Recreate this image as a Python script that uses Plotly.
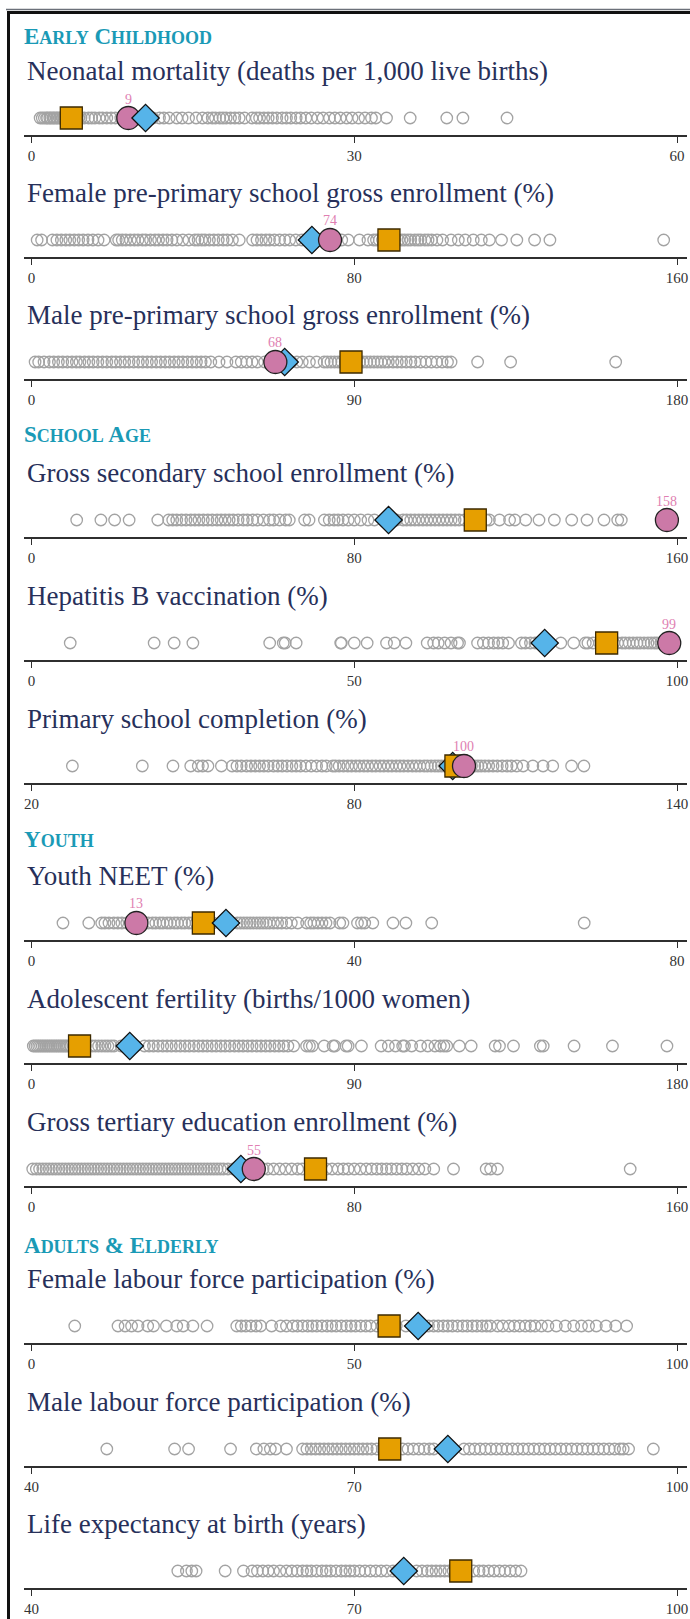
import plotly.graph_objects as go

# ---------------- DATA ----------------
titles = [
    "Neonatal mortality (deaths per 1,000 live births)",
    "Female pre-primary school gross enrollment (%)",
    "Male pre-primary school gross enrollment (%)",
    "Gross secondary school enrollment (%)",
    "Hepatitis B vaccination (%)",
    "Primary school completion (%)",
    "Youth NEET (%)",
    "Adolescent fertility (births/1000 women)",
    "Gross tertiary education enrollment (%)",
    "Female labour force participation (%)",
    "Male labour force participation (%)",
    "Life expectancy at birth (years)",
]
sections = ["EARLY CHILDHOOD", "SCHOOL AGE", "YOUTH", "ADULTS & ELDERLY"]

axis_min = [0, 0, 0, 0, 0, 20, 0, 0, 0, 0, 40, 40]
axis_max = [60, 160, 180, 160, 100, 140, 80, 180, 160, 100, 100, 100]

country_vals = [9, 74, 68, 157.5, 98.8, 100.4, 13, None, 55.1, None, None, None]
region_vals = [10.6, 69.5, 70.6, 88.5, 79.5, 98.3, 24.1, 27.4, 51.9, 59.9, 78.7, 74.6]
income_vals = [3.7, 88.6, 89.1, 110.0, 89.1, 98.9, 21.3, 13.4, 70.4, 55.4, 73.3, 79.9]

neonatal = [0.8, 1.0, 1.2, 1.4, 1.5, 1.7, 1.8, 2.0, 2.1, 2.3, 2.4, 2.6, 2.7, 2.9, 3.0, 3.2, 3.4,
            3.5, 3.7, 3.9, 4.0, 4.2, 4.4, 4.6, 4.9, 5.3, 5.6, 5.9, 6.3, 6.6, 7.0, 7.4, 7.8, 8.3,
            8.8, 9.4, 10.0, 10.7, 11.3, 11.9, 12.3, 12.8, 13.5, 14.0, 14.6, 15.3, 15.9, 16.4,
            16.8, 17.1, 17.5, 17.8, 18.1, 18.5, 18.9, 19.3, 19.8, 20.5, 20.9, 21.2, 21.6, 22.0,
            22.4, 22.8, 23.3, 23.7, 24.1, 24.6, 25.0, 25.5, 26.0, 26.6, 27.1, 27.7, 28.2, 28.7,
            29.3, 29.8, 30.4, 31.0, 31.6, 32.0, 33.0, 35.2, 38.6, 40.1, 44.2]
female_preprimary = [1.4, 2.5, 5.2, 6.3, 7.4, 8.5, 9.5, 10.6, 11.7, 12.8, 14.0, 15.2, 16.5, 18.0,
                     21.0, 21.6, 22.5, 23.4, 24.5, 25.5, 26.4, 27.5, 28.3, 29.5, 30.6, 31.5, 32.6,
                     33.6, 34.8, 36.0, 37.5, 39.0, 40.5, 41.3, 42.2, 43.0, 44.1, 45.2, 46.3, 47.5,
                     48.5, 49.8, 51.5, 54.8, 55.9, 57.0, 58.1, 59.0, 60.2, 61.5, 62.8, 64.0, 65.5,
                     67.0, 68.2, 70.5, 72.0, 76.9, 78.5, 81.3, 83.4, 84.8, 85.5, 86.2, 87.0, 88.0,
                     89.0, 90.0, 91.0, 91.8, 92.5, 93.3, 94.0, 95.0, 95.8, 96.5, 97.5, 98.3, 99.2,
                     100.5, 101.9, 104.0, 105.8, 107.5, 109.5, 111.5, 113.5, 116.5, 120.3, 124.7,
                     128.5, 156.7]
male_preprimary = [1.0, 2.0, 3.5, 5.0, 6.2, 7.5, 8.7, 10.0, 11.3, 12.5, 13.5, 14.8, 16.0, 17.2,
                   18.5, 19.8, 21.0, 22.4, 23.5, 24.8, 26.0, 27.2, 28.5, 29.8, 31.0, 32.3, 33.5,
                   34.8, 36.0, 37.3, 38.5, 39.8, 41.0, 42.2, 43.5, 44.8, 46.0, 47.3, 48.5, 50.0,
                   52.3, 54.5, 57.0, 58.5, 60.0, 61.5, 63.0, 65.0, 67.0, 72.5, 74.0, 75.5, 77.5,
                   79.5, 81.6, 82.5, 83.5, 84.5, 85.5, 86.5, 87.5, 88.5, 89.5, 90.5, 91.5, 92.5,
                   93.5, 94.5, 95.5, 96.5, 97.5, 98.5, 99.5, 100.8, 102.0, 103.2, 104.5, 105.8,
                   107.0, 108.5, 110.0, 111.5, 113.0, 114.5, 116.0, 117.0, 124.4, 133.6, 162.9]
secondary = [11.2, 17.2, 20.6, 24.2, 31.3, 34.0, 35.0, 36.0, 37.2, 38.3, 39.5, 40.5, 41.5, 42.6,
             43.7, 44.8, 46.0, 47.0, 48.0, 49.0, 50.0, 51.2, 52.5, 53.5, 54.8, 56.0, 57.5, 59.0,
             60.0, 61.5, 63.0, 63.9, 67.7, 68.8, 72.6, 73.8, 75.0, 76.0, 77.2, 78.5, 80.0, 81.6,
             83.4, 85.0, 90.5, 92.1, 93.0, 94.0, 95.0, 96.0, 97.0, 98.0, 99.0, 100.0, 101.0,
             102.0, 103.0, 104.0, 105.0, 106.0, 107.3, 112.7, 113.5, 116.0, 118.5, 119.8, 122.5,
             125.8, 129.6, 133.9, 137.7, 141.9, 145.3, 146.2]
hepb = [6.0, 19.0, 22.1, 25.0, 36.9, 39.0, 39.3, 41.0, 47.9, 48.0, 50.0, 52.0, 55.0, 56.2, 58.0,
        61.3, 62.3, 63.0, 64.0, 65.0, 66.0, 66.3, 69.1, 70.0, 70.8, 71.6, 72.3, 73.0, 73.9, 75.9,
        76.5, 77.3, 78.0, 80.3, 82.0, 84.0, 85.8, 86.2, 87.0, 88.0, 89.5, 90.2, 90.8, 91.5, 92.0,
        92.6, 93.2, 93.8, 94.3, 94.9, 95.5, 96.0, 96.5, 96.9, 97.5, 98.0]
primary_completion = [27.6, 40.6, 46.3, 49.6, 51.0, 51.8, 52.8, 55.3, 57.3, 58.2, 59.0, 60.0,
                      60.8, 61.6, 62.4, 63.2, 64.0, 65.0, 65.8, 66.6, 67.5, 68.4, 69.2, 70.0,
                      71.0, 72.0, 73.0, 74.0, 74.8, 76.0, 76.5, 77.2, 78.0, 78.8, 79.5, 80.3,
                      81.0, 81.8, 82.5, 83.3, 84.0, 84.8, 85.5, 86.3, 87.0, 87.8, 88.5, 89.2,
                      90.0, 90.8, 91.5, 92.2, 93.0, 93.6, 94.3, 95.0, 95.6, 96.2, 96.8, 97.4,
                      98.0, 98.6, 99.2, 99.8, 100.5, 101.2, 101.8, 102.4, 103.0, 103.6, 104.3,
                      105.0, 105.8, 106.6, 107.5, 108.4, 109.2, 110.2, 111.4, 113.2, 115.1,
                      116.9, 120.4, 122.7]
youth_neet = [3.9, 7.1, 8.7, 9.1, 9.6, 10.2, 10.7, 11.2, 11.8, 14.5, 15.0, 15.4, 15.9, 16.3, 16.8,
              17.2, 17.7, 18.1, 18.6, 19.0, 19.5, 19.9, 20.4, 21.0, 21.8, 22.5, 23.5, 24.5, 25.5,
              25.9, 26.3, 26.7, 27.1, 27.5, 27.9, 28.3, 28.7, 29.1, 29.5, 30.0, 30.5, 31.0, 31.6,
              32.2, 33.0, 34.1, 34.6, 35.0, 35.5, 36.0, 36.5, 37.0, 38.2, 38.6, 40.4, 40.9, 41.3,
              42.3, 44.8, 46.4, 49.6, 68.5]
adolescent_fertility = [0.5, 1.0, 1.5, 2.0, 2.5, 3.0, 3.5, 4.0, 4.5, 5.0, 5.5, 6.0, 6.5, 7.0, 7.5,
                        8.0, 8.5, 9.0, 9.5, 10.0, 10.8, 12.0, 13.5, 15.0, 16.9, 17.8, 18.7, 19.6,
                        20.5, 21.3, 22.2, 23.0, 25.0, 27.0, 29.0, 31.5, 32.8, 34.0, 35.3, 36.6,
                        37.8, 39.0, 40.3, 41.5, 42.8, 44.0, 45.3, 46.6, 47.8, 49.0, 50.3, 51.5,
                        52.8, 54.0, 55.3, 56.6, 57.8, 59.0, 60.3, 61.5, 62.8, 64.0, 65.3, 66.5,
                        67.8, 69.0, 70.3, 71.5, 73.1, 76.7, 77.5, 78.3, 81.6, 84.1, 84.6, 87.7,
                        88.3, 92.0, 97.5, 99.5, 101.5, 103.5, 104.0, 106.0, 108.5, 110.5, 112.5,
                        114.0, 115.0, 115.8, 119.3, 122.6, 129.3, 130.5, 134.4, 141.9, 142.7,
                        151.3, 162.0, 177.2]
tertiary = [0.3, 1.2, 2.0, 2.8, 3.6, 4.4, 5.2, 6.0, 6.8, 7.6, 8.4, 9.2, 10.0, 10.8, 11.6, 12.4,
            13.2, 14.0, 14.8, 15.6, 16.4, 17.2, 18.0, 18.8, 19.6, 20.4, 21.2, 22.0, 22.8, 23.6,
            24.4, 25.2, 26.0, 26.8, 27.6, 28.4, 29.2, 30.0, 30.8, 31.6, 32.4, 33.2, 34.0, 34.8,
            35.6, 36.4, 37.2, 38.0, 38.8, 39.6, 40.4, 41.2, 42.0, 42.8, 43.6, 44.4, 45.2, 46.0,
            46.8, 47.6, 48.7, 50.0, 57.4, 58.5, 60.0, 61.5, 63.0, 64.5, 66.0, 67.1, 73.1, 74.5,
            76.0, 77.3, 78.5, 80.0, 81.5, 83.0, 84.3, 85.6, 86.8, 88.0, 89.2, 90.5, 91.8, 93.0,
            94.5, 96.0, 97.5, 99.7, 104.6, 112.7, 113.8, 115.5, 148.4]
female_lfp = [6.7, 13.4, 14.5, 15.5, 16.5, 18.0, 18.9, 20.9, 22.5, 23.5, 25.0, 27.2, 31.8, 32.5,
              33.2, 34.0, 34.8, 35.5, 37.2, 38.6, 39.5, 40.5, 41.2, 42.0, 42.8, 43.5, 44.2, 45.0,
              45.8, 46.5, 47.2, 48.0, 48.8, 49.5, 50.2, 51.0, 51.8, 52.5, 53.5, 54.3, 56.5, 58.0,
              61.5, 62.3, 63.0, 63.8, 64.5, 65.2, 66.0, 66.8, 67.5, 68.3, 69.0, 69.8, 70.5, 71.1,
              72.2, 73.0, 74.0, 74.8, 75.6, 76.5, 77.3, 78.0, 79.0, 80.0, 81.3, 82.7, 84.0, 85.2,
              86.3, 87.5, 89.0, 90.5, 92.2]
male_lfp = [47.0, 53.3, 54.6, 58.5, 60.9, 61.6, 62.2, 62.7, 63.7, 65.2, 65.6, 66.0, 66.4, 66.8,
            67.2, 67.6, 68.0, 68.4, 68.8, 69.2, 69.6, 70.0, 70.4, 70.8, 71.2, 71.6, 72.1, 72.6,
            74.5, 75.0, 75.5, 76.0, 76.5, 77.0, 77.4, 80.2, 80.7, 81.2, 81.7, 82.2, 82.7, 83.2,
            83.7, 84.2, 84.7, 85.2, 85.7, 86.2, 86.7, 87.2, 87.7, 88.2, 88.7, 89.2, 89.7, 90.2,
            90.7, 91.2, 91.7, 92.2, 92.7, 93.2, 93.7, 94.2, 94.7, 95.0, 95.5, 97.8]
life_expectancy = [53.6, 54.4, 54.9, 55.3, 58.0, 59.7, 60.5, 61.0, 61.5, 62.0, 62.5, 63.1, 63.7,
                   64.2, 64.7, 65.2, 65.6, 66.0, 66.5, 67.0, 67.4, 67.8, 68.3, 68.8, 69.2, 69.6,
                   70.0, 70.5, 71.0, 71.5, 72.0, 72.5, 73.0, 73.6, 74.0, 75.0, 75.8, 76.3, 76.8,
                   77.2, 77.6, 78.0, 78.4, 78.8, 79.2, 79.6, 80.3, 81.1, 81.6, 82.0, 82.5, 83.0,
                   83.5, 84.0, 84.5, 85.0, 85.5]

other_countries = [neonatal, female_preprimary, male_preprimary, secondary, hepb,
                   primary_completion, youth_neet, adolescent_fertility, tertiary,
                   female_lfp, male_lfp, life_expectancy]

# ---------------- LAYOUT / STYLE ----------------
W, H = 690, 1619
axis_px = [135, 257, 379, 537, 660, 783, 940, 1063, 1186, 1343, 1466, 1588]
section_px = [36, 435, 839, 1245]
# stacking order of highlight markers (last drawn on top)
stack_order = [
    ["income", "country", "region"],
    ["region", "income", "country"],
    ["region", "income", "country"],
    ["region", "income", "country"],
    ["region", "income", "country"],
    ["region", "income", "country"],
    ["country", "income", "region"],
    ["region", "income", "country"],
    ["region", "income", "country"],
    ["region", "income", "country"],
    ["region", "income", "country"],
    ["region", "income", "country"],
]

SERIF = "Liberation Serif, Times New Roman, serif"
TITLE_COLOR = "#27305a"
TEAL = "#1a9ab6"
GRAY = "#a3a3a3"
PINK = "#CC79A7"
PINK_TXT = "#e07fb2"
BLUE = "#56B4E9"
ORANGE = "#E69F00"

def px_x(p):
    return p / W

def px_y(p):
    return 1 - p / H

fig = go.Figure()
layout = dict(
    width=W, height=H, margin=dict(l=0, r=0, t=0, b=0),
    paper_bgcolor="white", plot_bgcolor="white", showlegend=False,
    annotations=[], shapes=[],
)

DOM_L, DOM_R = 24, 687
TICK_L, TICK_R = 31.5, 677

for i in range(12):
    n = i + 1
    xa = "x" if n == 1 else f"x{n}"
    ya = "y" if n == 1 else f"y{n}"
    lo, hi = axis_min[i], axis_max[i]
    span = hi - lo
    upx = (TICK_R - TICK_L) / span
    r_lo = lo - (TICK_L - DOM_L) / upx
    r_hi = hi + (DOM_R - TICK_R) / upx
    ax = axis_px[i]

    layout[f"xaxis{n}"] = dict(
        domain=[px_x(DOM_L), px_x(DOM_R)], anchor=ya, range=[r_lo, r_hi],
        showline=True, linecolor="#2f2f2f", linewidth=1.5,
        ticks="outside", ticklen=6, tickwidth=1, tickcolor="#2f2f2f",
        tickvals=[lo, (lo + hi) / 2, hi], ticktext=[str(lo), str(int((lo + hi) / 2)), str(hi)],
        showgrid=False, zeroline=False, fixedrange=True, automargin=False,
        tickfont=dict(family=SERIF, size=15, color="#333333"),
    )
    layout[f"yaxis{n}"] = dict(
        domain=[px_y(ax), px_y(ax - 34)], anchor=xa, range=[-1, 1],
        visible=False, fixedrange=True,
    )

    vals = other_countries[i]
    fig.add_trace(go.Scatter(
        x=vals, y=[0] * len(vals), mode="markers", xaxis=xa, yaxis=ya,
        marker=dict(symbol="circle-open", size=11.5, color=GRAY, line=dict(width=1.3, color=GRAY)),
        cliponaxis=False, hoverinfo="x",
    ))

    for key in stack_order[i]:
        if key == "region":
            fig.add_trace(go.Scatter(
                x=[region_vals[i]], y=[0], mode="markers", xaxis=xa, yaxis=ya,
                marker=dict(symbol="diamond", size=21, color=BLUE,
                            line=dict(width=1.3, color="#111111")),
                cliponaxis=False,
            ))
        elif key == "income":
            fig.add_trace(go.Scatter(
                x=[income_vals[i]], y=[0], mode="markers", xaxis=xa, yaxis=ya,
                marker=dict(symbol="square", size=22, color=ORANGE,
                            line=dict(width=1.3, color="#3d2a00")),
                cliponaxis=False,
            ))
        elif key == "country" and country_vals[i] is not None:
            cv = country_vals[i]
            fig.add_trace(go.Scatter(
                x=[cv], y=[0], mode="markers", xaxis=xa, yaxis=ya,
                marker=dict(symbol="circle", size=23, color=PINK,
                            line=dict(width=1.3, color="#222222")),
                cliponaxis=False,
            ))
            layout["annotations"].append(dict(
                text=str(int(round(cv))), x=cv, y=0, xref=xa, yref=ya,
                yshift=19, xanchor="center", yanchor="middle", showarrow=False,
                font=dict(family=SERIF, size=14, color=PINK_TXT),
            ))

    layout["annotations"].append(dict(
        text=titles[i], x=px_x(25), y=px_y(ax - 64), xref="paper", yref="paper",
        xanchor="left", yanchor="middle", showarrow=False,
        font=dict(family=SERIF, size=27, color=TITLE_COLOR),
    ))

def small_caps(s, big=23, small=18):
    out = []
    for w in s.split(" "):
        if len(w) == 1:
            out.append(f"<span style='font-size:{big}px'>{w}</span>")
        else:
            out.append(f"<span style='font-size:{big}px'>{w[0]}</span>"
                       f"<span style='font-size:{small}px'>{w[1:]}</span>")
    return "<b>" + " ".join(out) + "</b>"

for s, yp in zip(sections, section_px):
    layout["annotations"].append(dict(
        text=small_caps(s), x=px_x(22), y=px_y(yp), xref="paper", yref="paper",
        xanchor="left", yanchor="middle", showarrow=False,
        font=dict(family=SERIF, size=23, color=TEAL),
    ))

# frame
layout["shapes"] += [
    dict(type="line", xref="paper", yref="paper", x0=px_x(6), x1=1, y0=px_y(9.5), y1=px_y(9.5),
         line=dict(color="#6b7079", width=1.5)),
    dict(type="line", xref="paper", yref="paper", x0=px_x(7), x1=1, y0=px_y(12.5), y1=px_y(12.5),
         line=dict(color="#111111", width=3)),
    dict(type="line", xref="paper", yref="paper", x0=px_x(8.5), x1=px_x(8.5), y0=px_y(11), y1=0,
         line=dict(color="#111111", width=3)),
]

fig.update_layout(**layout)
fig.write_html(
    "out.html",
    config={"displayModeBar": False},
    post_script="document.body.style.margin='0';document.body.style.overflow='hidden';",
)
